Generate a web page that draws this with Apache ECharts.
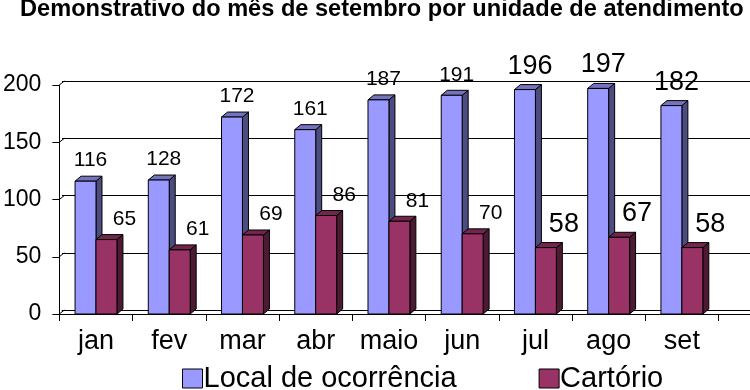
<!DOCTYPE html>
<html>
<head>
<meta charset="utf-8">
<script src="https://cdn.jsdelivr.net/npm/echarts@6/dist/echarts.min.js"></script>
<style>html,body{margin:0;padding:0;background:#fff}#c{width:750px;height:390px}</style>
</head>
<body>
<div id="c"></div>
<script>
const titleText = 'Demonstrativo do mês de setembro por unidade de atendimento';
const categories = ['jan','fev','mar','abr','maio','jun','jul','ago','set'];
const seriesNames = ['Local de ocorrência','Cartório'];
// bar heights as drawn in the picture
const localBars = [116,117,172,161,187,191,196,197,182];
const cartorioBars = [65,56,69,86,81,70,58,67,58];
// label texts as printed in the picture
const localLabels = [116,128,172,161,187,191,196,197,182];
const cartorioLabels = [65,61,69,86,81,70,58,67,58];
const yTicks = [0,50,100,150,200];

const FONT = '"Liberation Sans", Arial, sans-serif';
const faces = [
  {front:'#9999FF', side:'#4C4C80', top:'#7373BF', labelDx:5},
  {front:'#993366', side:'#4D1A33', top:'#73264D', labelDx:18}
];
const DX = 6, DY = -5;

function makeRender(si, labels){
  return function(params, api){
    const i = api.value(0), v = api.value(1);
    const p0 = api.coord([i, 0]);
    const p1 = api.coord([i, v]);
    const band = api.size([1, 0])[0];
    const w = band * 0.286;
    const x = p0[0] + (si === 0 ? -w : 0);
    const yb = p0[1], yt = p1[1];
    const f = faces[si];
    const ln = {stroke:'#000', lineWidth:1};
    const big = i >= 6;
    const fs = big ? 27 : 21;
    return {type:'group', children:[
      {type:'polygon', shape:{points:[[x+w,yt],[x+w+DX,yt+DY],[x+w+DX,yb+DY],[x+w,yb]]}, style:Object.assign({fill:f.side}, ln)},
      {type:'polygon', shape:{points:[[x,yt],[x+DX,yt+DY],[x+w+DX,yt+DY],[x+w,yt]]}, style:Object.assign({fill:f.top}, ln)},
      {type:'rect', shape:{x:x, y:yt, width:w, height:yb-yt}, style:Object.assign({fill:f.front}, ln)},
      {type:'text', style:{text:String(labels[i]), x:x + w/2 + f.labelDx, y:yt + DY - 5, align:'center', verticalAlign:'bottom', font: fs + 'px ' + FONT, fill:'#000'}}
    ]};
  };
}

function wallRender(params, api){
  const v = api.value(0);
  const p = api.coord([0, v]);
  const band = api.size([1, 0])[0];
  const x0 = p[0] - band/2;
  return {type:'line', shape:{x1:x0, y1:p[1], x2:x0+5, y2:p[1]-4}, style:{stroke:'#000', lineWidth:1}};
}

const chart = echarts.init(document.getElementById('c'), null, {renderer:'canvas'});
chart.setOption({
  animation:false,
  backgroundColor:'#fff',
  title:{text:titleText, left:20, top:-3, padding:0,
    textStyle:{fontFamily:FONT, fontSize:23.6, fontWeight:'bold', color:'#000'}},
  legend:{data:seriesNames, left:182, top:364, padding:0, itemGap:82, itemWidth:20, itemHeight:19, icon:'rect',
    itemStyle:{borderColor:'#000', borderWidth:1},
    textStyle:{fontFamily:FONT, fontSize:29, color:'#000', padding:[0,0,0,-4]}},
  grid:[
    {left:57, right:31.5, top:85, bottom:76},
    {left:62, right:0, top:81, bottom:80},
    {left:57, right:0, top:85, bottom:76}
  ],
  xAxis:[
    {type:'category', gridIndex:0, data:categories, boundaryGap:true,
      axisLine:{show:true, lineStyle:{color:'#000', width:1}},
      axisTick:{show:true, length:7, interval:0, lineStyle:{color:'#000'}},
      axisLabel:{fontFamily:FONT, fontSize:27, color:'#000', margin:14, interval:0, hideOverlap:false}},
    {type:'category', gridIndex:1, data:categories, axisLine:{show:true, lineStyle:{color:'#000'}}, axisTick:{show:false}, axisLabel:{show:false}},
    {type:'value', gridIndex:2, min:0, max:1, axisLine:{show:true, onZero:false, lineStyle:{color:'#000'}}, axisTick:{show:false}, axisLabel:{show:false}, splitLine:{show:false}}
  ],
  yAxis:[
    {type:'value', gridIndex:0, min:0, max:200, interval:50,
      axisLine:{show:true, lineStyle:{color:'#000', width:1}},
      axisTick:{show:true, length:7, lineStyle:{color:'#000'}},
      axisLabel:{fontFamily:FONT, fontSize:23, color:'#000', margin:18},
      splitLine:{show:false}},
    {type:'value', gridIndex:1, min:0, max:200, interval:50,
      axisLine:{show:false}, axisTick:{show:false}, axisLabel:{show:false},
      splitLine:{show:true, lineStyle:{color:'#000', width:1}}},
    {type:'value', gridIndex:2, min:0, max:1, show:false}
  ],
  series:[
    {type:'custom', name:'wall', xAxisIndex:0, yAxisIndex:0, silent:true, renderItem:wallRender,
      data:yTicks.map(v => [v]), encode:{y:0}},
    {type:'custom', name:seriesNames[0], xAxisIndex:0, yAxisIndex:0, renderItem:makeRender(0, localLabels),
      itemStyle:{color:faces[0].front, borderColor:'#000', borderWidth:1},
      data:localBars.map((v,i) => [i, v]), encode:{x:0, y:1}},
    {type:'custom', name:seriesNames[1], xAxisIndex:0, yAxisIndex:0, renderItem:makeRender(1, cartorioLabels),
      itemStyle:{color:faces[1].front, borderColor:'#000', borderWidth:1},
      data:cartorioBars.map((v,i) => [i, v]), encode:{x:0, y:1}}
  ]
});
</script>
</body>
</html>
